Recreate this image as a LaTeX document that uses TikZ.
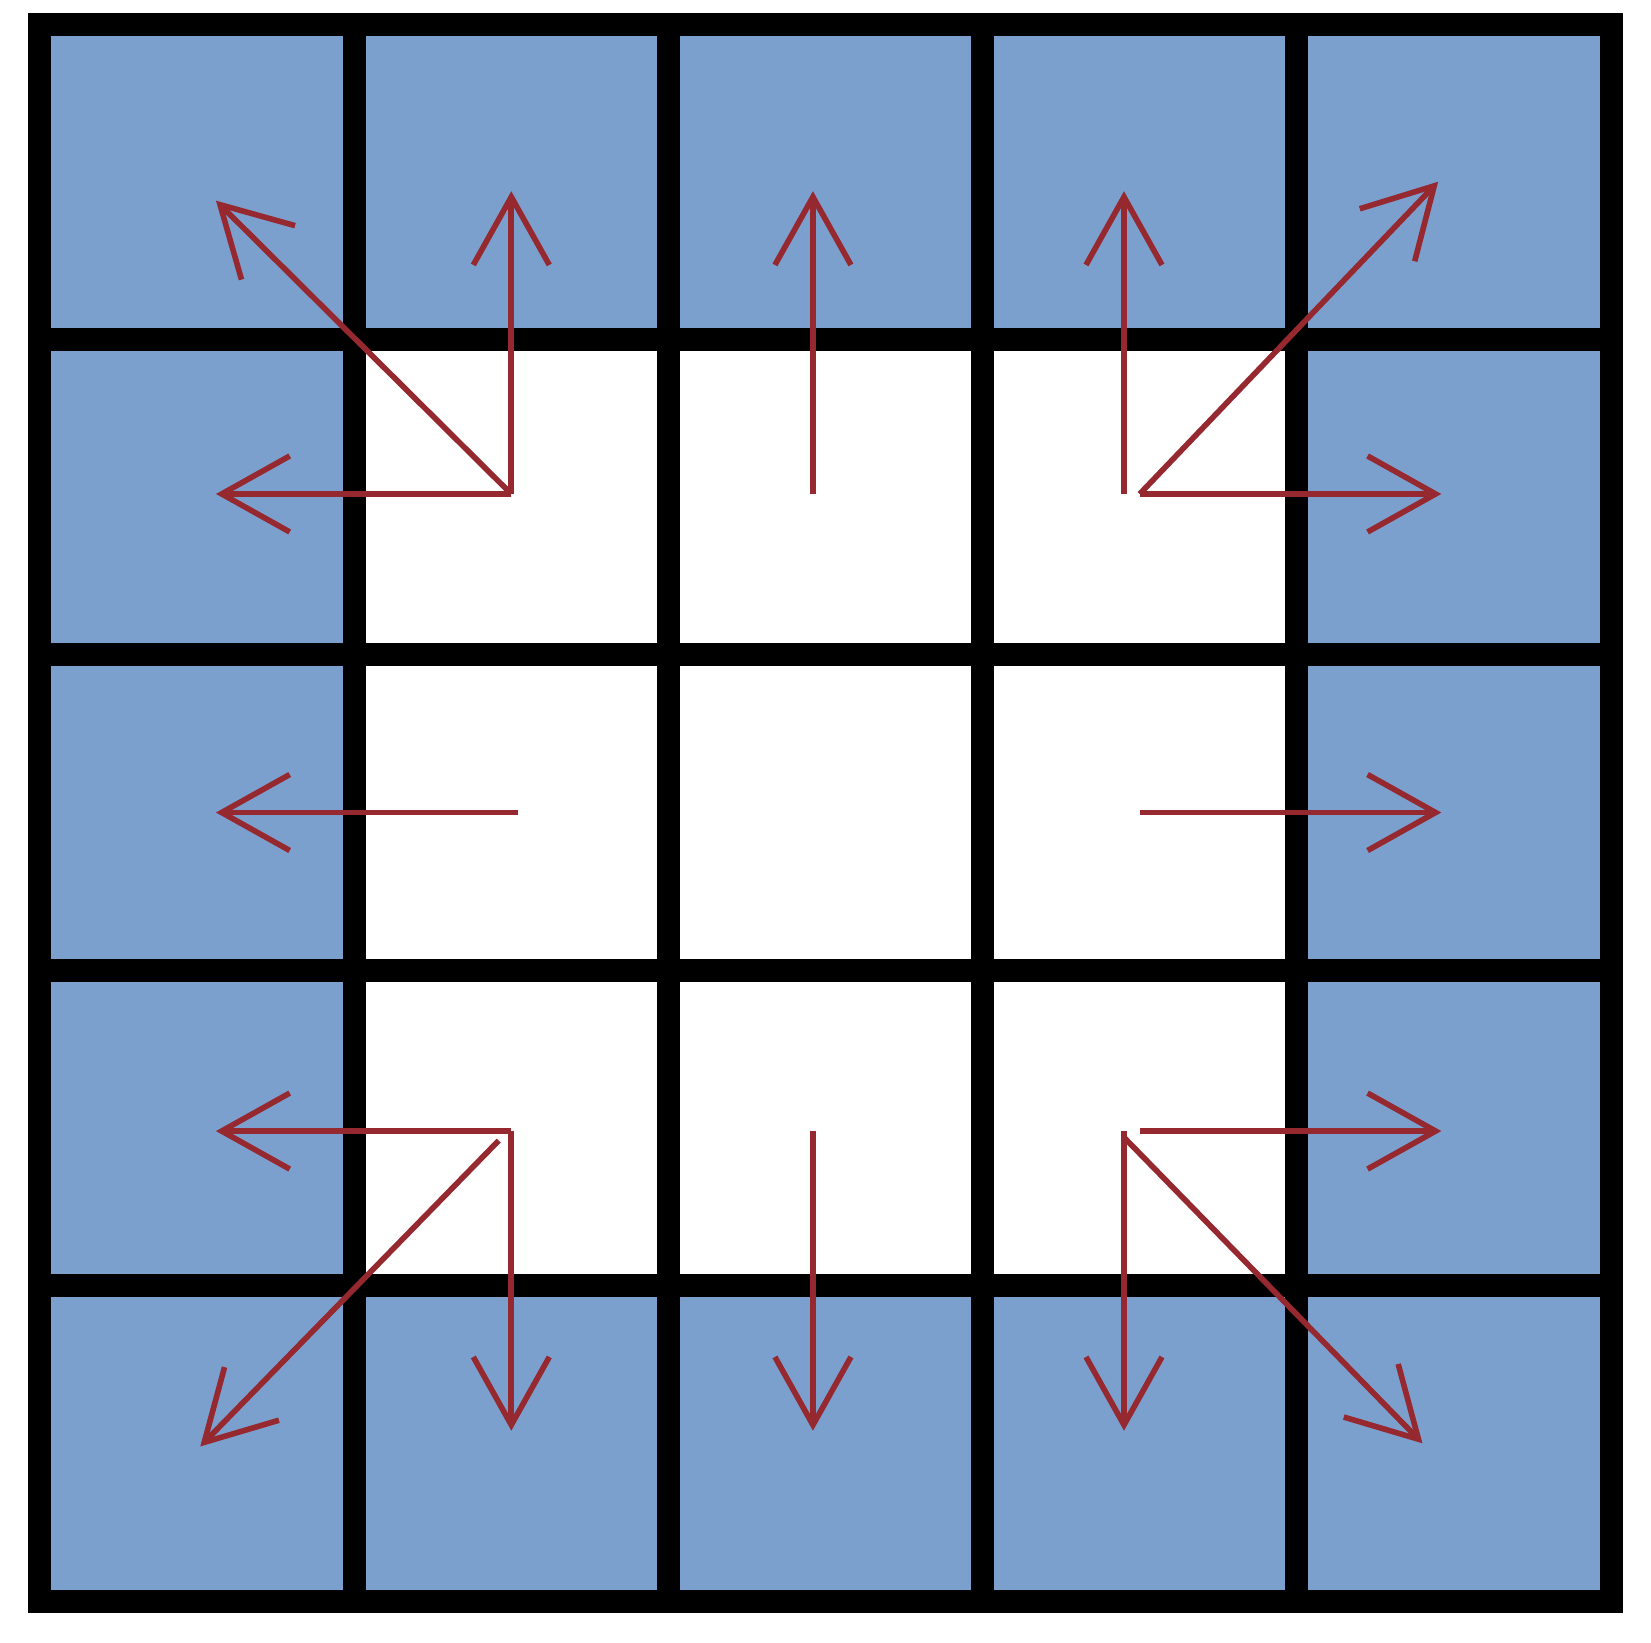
\documentclass[tikz,border=0pt]{standalone}
\usetikzlibrary{arrows.meta}
\definecolor{cellblue}{RGB}{124,160,205}
\definecolor{arrowred}{RGB}{150,40,48}
\tikzset{
  gridline/.style={line width=2.3mm, black},
  spread/.style={arrowred, line width=1.6pt, -{Straight Barb[length=6.8mm,width=7.6mm]}},
}
\begin{document}
\begin{tikzpicture}[x=3.142cm,y=-3.154cm]
\useasboundingbox (-0.1273,-0.0761) rectangle (5.1273,5.1331);
% cells
\fill[cellblue] (0,0) rectangle (5,5);
\fill[white] (1,1) rectangle (4,4);
% grid
\draw[gridline] (1,0) -- (1,5);
\draw[gridline] (2,0) -- (2,5);
\draw[gridline] (3,0) -- (3,5);
\draw[gridline] (4,0) -- (4,5);
\draw[gridline] (0,1) -- (5,1);
\draw[gridline] (0,2) -- (5,2);
\draw[gridline] (0,3) -- (5,3);
\draw[gridline] (0,4) -- (5,4);
\draw[gridline] (0,0) rectangle (5,5);
% top row of inner cells
\coordinate (nw) at (1.5,1.49);
\coordinate (nw-diag) at (0.56,0.56);
\coordinate (nw-up) at (1.5,0.53);
\coordinate (nw-left) at (0.56,1.49);
\coordinate (n) at (2.46,1.49);
\coordinate (n-up) at (2.46,0.53);
\coordinate (ne-v) at (3.45,1.49);
\coordinate (ne-up) at (3.45,0.53);
\coordinate (ne) at (3.5,1.49);
\coordinate (ne-diag) at (4.45,0.5);
\coordinate (ne-right) at (4.46,1.49);
\draw[spread] (nw) -- (nw-diag);
\draw[spread] (nw) -- (nw-up);
\draw[spread] (nw) -- (nw-left);
\draw[spread] (n) -- (n-up);
\draw[spread] (ne-v) -- (ne-up);
\draw[spread] (ne) -- (ne-diag);
\draw[spread] (ne) -- (ne-right);
% middle row
\coordinate (w) at (1.52,2.5);
\coordinate (w-left) at (0.56,2.5);
\coordinate (e) at (3.5,2.5);
\coordinate (e-right) at (4.46,2.5);
\draw[spread] (w) -- (w-left);
\draw[spread] (e) -- (e-right);
% bottom row of inner cells
\coordinate (sw) at (1.5,3.51);
\coordinate (sw-left) at (0.56,3.51);
\coordinate (sw-down) at (1.5,4.46);
\coordinate (sw-d) at (1.46,3.54);
\coordinate (sw-diag) at (0.51,4.51);
\coordinate (s) at (2.46,3.51);
\coordinate (s-down) at (2.46,4.46);
\coordinate (se-v) at (3.45,3.51);
\coordinate (se-down) at (3.45,4.46);
\coordinate (se-d) at (3.45,3.53);
\coordinate (se-diag) at (4.4,4.5);
\coordinate (se) at (3.5,3.51);
\coordinate (se-right) at (4.46,3.51);
\draw[spread] (sw) -- (sw-left);
\draw[spread] (sw) -- (sw-down);
\draw[spread] (sw-d) -- (sw-diag);
\draw[spread] (s) -- (s-down);
\draw[spread] (se-v) -- (se-down);
\draw[spread] (se-d) -- (se-diag);
\draw[spread] (se) -- (se-right);
\end{tikzpicture}
\end{document}
